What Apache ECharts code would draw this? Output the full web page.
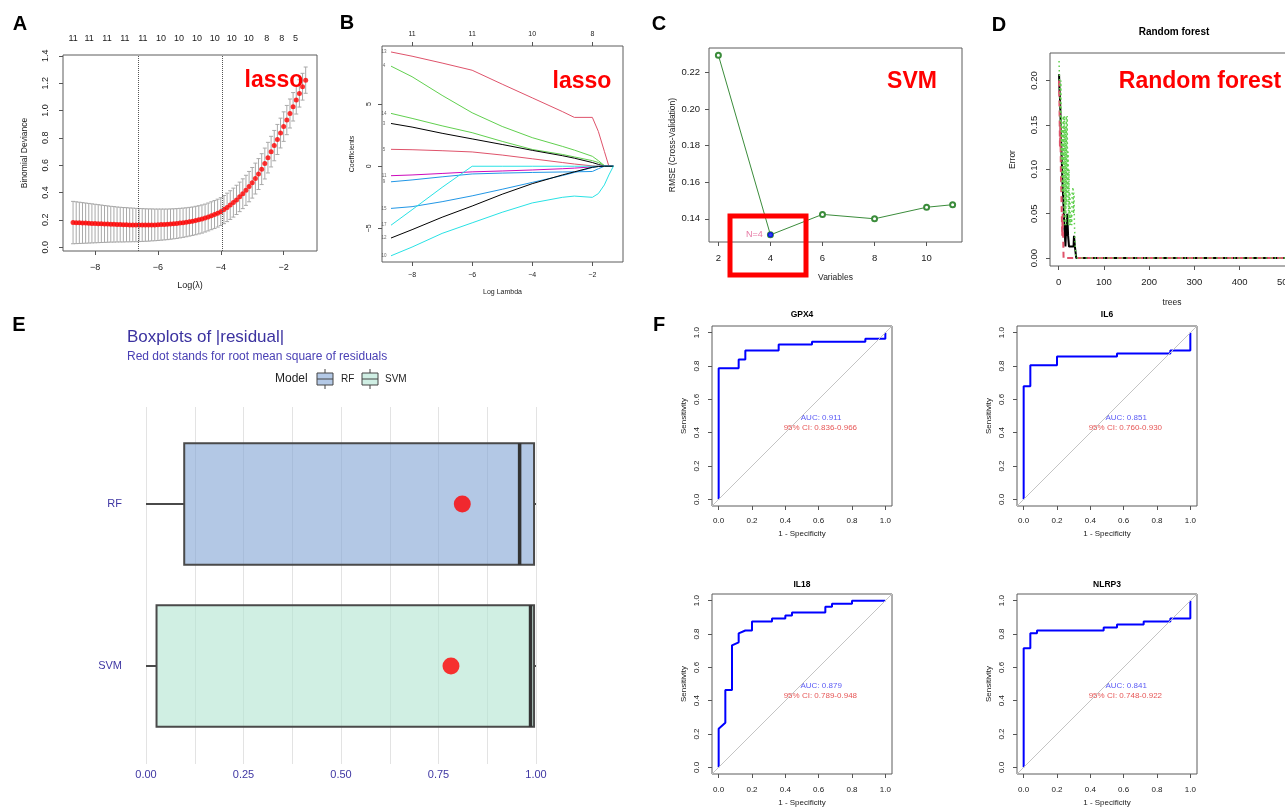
<!DOCTYPE html>
<html>
<head>
<meta charset="utf-8">
<script src="https://cdn.jsdelivr.net/npm/echarts@6/dist/echarts.min.js"></script>
<style>
  html, body { margin: 0; padding: 0; background: #ffffff; }
  #main { width: 1285px; height: 808px; }
</style>
</head>
<body>
<div id="main"></div>
<script>
// ---------- Panel A: cross-validated LASSO deviance ----------
const cvLogLambda = [
  -8.7,-8.6,-8.5,-8.4,-8.3,-8.2,-8.1,-8.0,-7.9,-7.8,
  -7.7,-7.6,-7.5,-7.4,-7.3,-7.2,-7.1,-7.0,-6.9,-6.8,
  -6.7,-6.6,-6.5,-6.4,-6.3,-6.2,-6.1,-6.0,-5.9,-5.8,
  -5.7,-5.6,-5.5,-5.4,-5.3,-5.2,-5.1,-5.0,-4.9,-4.8,
  -4.7,-4.6,-4.5,-4.4,-4.3,-4.2,-4.1,-4.0,-3.9,-3.8,
  -3.7,-3.6,-3.5,-3.4,-3.3,-3.2,-3.1,-3.0,-2.9,-2.8,
  -2.7,-2.6,-2.5,-2.4,-2.3,-2.2,-2.1,-2.0,-1.9,-1.8,
  -1.7,-1.6,-1.5,-1.4,-1.3];
const cvDeviance = [
  0.180,0.179,0.178,0.177,0.176,0.175,0.174,0.173,0.172,0.171,
  0.170,0.169,0.168,0.167,0.166,0.165,0.164,0.164,0.163,0.163,
  0.162,0.162,0.162,0.162,0.162,0.163,0.163,0.164,0.165,0.166,
  0.167,0.169,0.171,0.173,0.176,0.179,0.182,0.186,0.190,0.195,
  0.200,0.206,0.213,0.221,0.230,0.239,0.249,0.260,0.275,0.291,
  0.308,0.326,0.346,0.368,0.391,0.416,0.443,0.471,0.502,0.535,
  0.571,0.612,0.655,0.699,0.743,0.788,0.835,0.882,0.930,0.978,
  1.027,1.076,1.125,1.174,1.222];
const cvSE = [
  0.155,0.153,0.151,0.149,0.147,0.145,0.143,0.141,0.139,0.137,
  0.135,0.133,0.131,0.130,0.128,0.127,0.126,0.125,0.124,0.123,
  0.122,0.121,0.120,0.119,0.118,0.117,0.116,0.115,0.114,0.113,
  0.112,0.111,0.110,0.109,0.108,0.107,0.106,0.105,0.104,0.104,
  0.103,0.103,0.102,0.102,0.102,0.102,0.102,0.102,0.103,0.104,
  0.105,0.106,0.107,0.108,0.109,0.110,0.111,0.112,0.113,0.113,
  0.113,0.113,0.112,0.112,0.111,0.110,0.109,0.108,0.107,0.106,
  0.104,0.102,0.100,0.098,0.096];
const cvLambdaMarks = [-6.63, -3.94];
const cvTopPos = [-8.70,-8.19,-7.62,-7.05,-6.48,-5.90,-5.33,-4.76,-4.19,-3.65,-3.11,-2.54,-2.06,-1.62];
const cvTopCount = ['11','11','11','11','11','10','10','10','10','10','10','8','8','5'];
const cvXTicks = [-8,-6,-4,-2];
const cvYTicks = [0,0.2,0.4,0.6,0.8,1.0,1.2,1.4];

// ---------- Panel B: coefficient paths ----------
const pathLogLambda = [-8.7,-8,-7,-6,-5,-4,-3,-2.6,-2,-1.8,-1.6,-1.45,-1.3];
const coef13 = [9.19,8.85,8.30,7.72,6.60,5.50,4.40,3.93,3.93,2.80,1.20,0,0];
const coef4  = [8.05,7.20,5.70,4.30,3.20,2.30,1.60,1.30,0.80,0.45,0.05,0,0];
const coef14 = [4.25,3.85,3.25,2.70,2.00,1.35,0.95,0.75,0.45,0.30,0.05,0,0];
const coef3  = [3.44,3.15,2.65,2.20,1.75,1.28,0.85,0.65,0.30,0.15,0,0,0];
const coef5  = [1.36,1.33,1.25,1.15,0.90,0.60,0.30,0.18,0.03,0,0,0,0];
const coef11 = [-0.76,-0.70,-0.58,-0.45,-0.38,-0.30,-0.20,-0.15,-0.05,0,0,0,0];
const coef9  = [-1.25,-1.10,-0.85,-0.62,-0.55,-0.50,-0.46,-0.45,-0.42,-0.20,0,0,0];
const coef15 = [-3.39,-3.25,-2.85,-2.38,-1.85,-1.30,-0.75,-0.50,-0.10,-0.02,0,0,0];
const coef17 = [-4.74,-3.50,-1.70,0,0,0,0,0,0,0,0,0,0];
const coef12 = [-5.77,-5.10,-4.10,-3.20,-2.25,-1.40,-0.70,-0.45,-0.08,-0.02,0,0,0];
const coef10 = [-7.20,-6.50,-5.40,-4.55,-3.70,-2.95,-2.50,-2.40,-2.50,-2.20,-1.50,-0.70,0];
const pathTopTicks = [-8,-6,-4,-2];
const pathTopCount = ['11','11','10','8'];
const pathYTicks = [-5,0,5];

// ---------- Panel C: SVM-RFE ----------
const rfeVars = [2,4,6,8,10,11];
const rfeRMSE = [0.2295,0.1312,0.1424,0.1400,0.1463,0.1477];
const rfeBestVars = 4;
const rfeYTicks = [0.14,0.16,0.18,0.20,0.22];

// ---------- Panel D: random forest error ----------
const oobError = [[1,0.207],[2,0.19],[3,0.18],[4,0.165],[5,0.14],[6,0.125],[7,0.11],[8,0.095],[9,0.08],[10,0.07],
  [11,0.058],[12,0.045],[13,0.032],[14,0.025],[15,0.013],[16,0.013],[17,0.038],[18,0.025],[19,0.05],[20,0.038],
  [21,0.025],[22,0.025],[23,0.013],[33,0.013],[34,0.025],[35,0.025],[36,0.013],[38,0.013],[39,0],[500,0]];
const class1Error = [[1,0.2],[2,0.17],[3,0.125],[4,0.15],[5,0.1],[6,0.075],[7,0.05],[8,0.025],[9,0.05],[10,0.025],[11,0],[500,0]];
const class2Error = [[1,0.222],[2,0.2],[3,0.185],[4,0.15],[5,0.2],[6,0.11],[7,0.16],[8,0.074],[9,0.148],[10,0.074],
  [11,0.16],[12,0.037],[13,0.16],[14,0.05],[15,0.148],[16,0.037],[17,0.16],[18,0.06],[19,0.16],[20,0.074],
  [21,0.12],[22,0.037],[23,0.1],[24,0.037],[25,0.074],[26,0.037],[27,0.037],[28,0.05],[29,0.037],[30,0.074],
  [31,0.074],[32,0.08],[33,0.05],[34,0.074],[35,0.037],[36,0.025],[37,0.012],[38,0],[500,0]];
const rfXTicks = [0,100,200,300,400,500];
const rfYTicks = [0,0.05,0.10,0.15,0.20];

// ---------- Panel E: |residual| boxplots ----------
const models = ['RF','SVM'];
const residMin = [0.0, 0.0];
const residQ1 = [0.098, 0.027];
const residMedian = [0.958, 0.986];
const residQ3 = [0.995, 0.995];
const residMax = [1.0, 1.0];
const residRMS = [0.811, 0.782];

// ---------- Panel F: ROC curves (1 - specificity, sensitivity) ----------
const rocGPX4 = [[0,0],[0,0.786],[0.12,0.786],[0.12,0.839],[0.16,0.839],[0.16,0.893],[0.36,0.893],[0.36,0.929],
  [0.56,0.929],[0.56,0.946],[0.88,0.946],[0.88,0.964],[1,0.964],[1,1]];
const rocIL6 = [[0,0],[0,0.679],[0.04,0.679],[0.04,0.804],[0.2,0.804],[0.2,0.857],[0.56,0.857],[0.56,0.875],
  [0.88,0.875],[0.88,0.893],[1,0.893],[1,1]];
const rocIL18 = [[0,0],[0,0.232],[0.04,0.268],[0.04,0.464],[0.08,0.464],[0.08,0.732],[0.12,0.75],[0.12,0.804],
  [0.16,0.821],[0.2,0.821],[0.2,0.875],[0.32,0.875],[0.32,0.893],[0.4,0.893],[0.4,0.911],[0.44,0.911],
  [0.44,0.929],[0.64,0.929],[0.64,0.964],[0.68,0.964],[0.68,0.982],[0.8,0.982],[0.8,1],[1,1]];
const rocNLRP3 = [[0,0],[0,0.714],[0.04,0.714],[0.04,0.804],[0.08,0.804],[0.08,0.821],[0.48,0.821],[0.48,0.839],
  [0.56,0.839],[0.56,0.857],[0.72,0.857],[0.72,0.875],[0.88,0.875],[0.88,0.893],[1,0.893],[1,1]];
const rocGenes = ['GPX4','IL6','IL18','NLRP3'];
const rocAUC = ['0.911','0.851','0.879','0.841'];
const rocCI = ['0.836-0.966','0.760-0.930','0.789-0.948','0.748-0.922'];
const rocTicks = [0,0.2,0.4,0.6,0.8,1.0];

// ================= drawing =================
const FONT = '"Liberation Sans", Arial, Helvetica, sans-serif';
const INK = '#1a1a1a';
const R_PINK = '#DF536B', R_GREEN = '#61D04F', R_BLUE = '#2297E6', R_CYAN = '#28E2E5', R_MAG = '#CD0BBC';
const E_INK = '#3f37a3';

const minusFmt = v => (v < 0 ? '\u2212' : '') + Math.abs(v);

function box(left, top, width, height, show) {
  return { left, top, width, height, show: show !== false, borderColor: '#5c5c5c', borderWidth: 1,
           backgroundColor: 'rgba(0,0,0,0)', containLabel: false, outerBoundsMode: 'none' };
}

// value axis drawn like base-R graphics: ticks outside the plot box, at the box edge
function rAxis(grid, min, max, ticks, o) {
  const ax = {
    type: 'value', gridIndex: grid, min, max,
    axisLine: { show: false, onZero: false }, splitLine: { show: false },
    axisTick: { show: o.tick !== false, inside: false, length: 4, lineStyle: { color: '#555', width: 1 }, customValues: ticks },
    axisLabel: { customValues: ticks, fontSize: o.fs, color: INK, fontFamily: FONT, margin: o.margin,
                 formatter: o.fmt, rotate: o.rot || 0, hideOverlap: false },
    name: o.name || '', nameLocation: 'middle', nameGap: o.nameGap || 20,
    nameTextStyle: { fontSize: o.nfs || 9, color: INK, fontFamily: FONT }
  };
  if (o.pos) ax.position = o.pos;
  return ax;
}

const grids = [
  box(63, 55, 254, 196),        // 0 A
  box(382, 46, 241, 216),       // 1 B
  box(709, 48, 253, 194),       // 2 C
  box(1050, 53, 244, 213),      // 3 D
  box(146, 407, 390, 357, false), // 4 E grid lines
  box(146, 423, 390, 324, false), // 5 E boxes
  box(712, 326, 180, 180),      // 6 GPX4
  box(1017, 326, 180, 180),     // 7 IL6
  box(712, 594, 180, 180),      // 8 IL18
  box(1017, 594, 180, 180)      // 9 NLRP3
];

function nearestLabel(pos, labels) {
  return v => {
    let best = 0, d = Infinity;
    pos.forEach((p, i) => { const dd = Math.abs(p - v); if (dd < d) { d = dd; best = i; } });
    return labels[best];
  };
}

const xAxes = [
  rAxis(0, -9.02, -0.94, cvXTicks, { fs: 9, margin: 12, fmt: minusFmt, name: 'Log(\u03bb)', nameGap: 30, nfs: 9 }),
  rAxis(0, -9.02, -0.94, cvTopPos, { pos: 'top', tick: false, fs: 9, margin: 12, fmt: nearestLabel(cvTopPos, cvTopCount) }),
  rAxis(1, -9.0, -0.98, cvXTicks, { fs: 7, margin: 10, fmt: minusFmt, name: 'Log Lambda', nameGap: 27, nfs: 7 }),
  rAxis(1, -9.0, -0.98, pathTopTicks, { pos: 'top', fs: 7, margin: 8, fmt: nearestLabel(pathTopTicks, pathTopCount) }),
  rAxis(2, 1.64, 11.36, [2,4,6,8,10], { fs: 9.5, margin: 11, fmt: v => String(v), name: 'Variables', nameGap: 31, nfs: 8.5 }),
  rAxis(3, -19, 520, rfXTicks, { fs: 9.5, margin: 11, fmt: v => String(v), name: 'trees', nameGap: 32, nfs: 8.5 }),
  { type: 'value', gridIndex: 4, min: 0, max: 1, interval: 0.125,
    axisLine: { show: false, onZero: false }, axisTick: { show: false },
    splitLine: { show: true, lineStyle: { color: '#e3e3e3', width: 1 } },
    axisLabel: { color: E_INK, fontSize: 11, fontFamily: FONT, margin: 5,
                 formatter: v => (Math.round(v * 1000) % 250 === 0 ? v.toFixed(2) : '') } },
  { type: 'value', gridIndex: 5, min: 0, max: 1, show: false, axisLine: { onZero: false } },
];
rocGenes.forEach((g, i) => {
  const bottomRow = i >= 2;
  xAxes.push(rAxis(6 + i, -0.04, 1.04, rocTicks, { fs: 8, margin: bottomRow ? 11.5 : 10.5, fmt: v => v.toFixed(1),
    name: '1 - Specificity', nameGap: bottomRow ? 25 : 24, nfs: 8 }));
});

const yAxes = [
  rAxis(0, -0.028, 1.406, cvYTicks, { rot: 90, fs: 9, margin: 13, fmt: v => v.toFixed(1), name: 'Binomial Deviance', nameGap: 34, nfs: 8.5 }),
  rAxis(1, -7.7, 9.67, pathYTicks, { rot: 90, fs: 7, margin: 9, fmt: minusFmt, name: 'Coefficients', nameGap: 26, nfs: 7 }),
  rAxis(2, 0.1273, 0.2334, rfeYTicks, { rot: 0, fs: 9.5, margin: 9, fmt: v => v.toFixed(2), name: 'RMSE (Cross-Validation)', nameGap: 32, nfs: 8.5 }),
  rAxis(3, -0.0089, 0.231, rfYTicks, { rot: 90, fs: 9.5, margin: 11, fmt: v => v.toFixed(2), name: 'Error', nameGap: 33, nfs: 8.5 }),
  { type: 'value', gridIndex: 4, min: 0, max: 1, show: false, axisLine: { onZero: false } },
  { type: 'category', gridIndex: 5, data: models, inverse: true,
    axisLine: { show: false, onZero: false }, axisTick: { show: false }, splitLine: { show: false },
    axisLabel: { color: E_INK, fontSize: 11, fontFamily: FONT, margin: 24 } }
];
rocGenes.forEach((g, i) => {
  yAxes.push(rAxis(6 + i, -0.04, 1.04, rocTicks, { rot: 90, fs: 8, margin: 11, fmt: v => v.toFixed(1),
    name: 'Sensitivity', nameGap: 24.5, nfs: 8 }));
});

const series = [];

// A: error bars + mean deviance
series.push({
  type: 'custom', xAxisIndex: 0, yAxisIndex: 0, z: 2, silent: true,
  data: cvLogLambda.map((x, i) => [x, cvDeviance[i] - cvSE[i], cvDeviance[i] + cvSE[i]]),
  encode: { x: 0, y: [1, 2] },
  renderItem: (params, api) => {
    const x = api.value(0);
    const a = api.coord([x, api.value(1)]), b = api.coord([x, api.value(2)]);
    const s = { stroke: '#a9a9a9', lineWidth: 1 };
    return { type: 'group', children: [
      { type: 'line', shape: { x1: a[0], y1: a[1], x2: b[0], y2: b[1] }, style: s },
      { type: 'line', shape: { x1: a[0] - 2, y1: a[1], x2: a[0] + 2, y2: a[1] }, style: s },
      { type: 'line', shape: { x1: b[0] - 2, y1: b[1], x2: b[0] + 2, y2: b[1] }, style: s }
    ] };
  }
});
series.push({
  type: 'scatter', xAxisIndex: 0, yAxisIndex: 0, z: 3, silent: true,
  symbol: 'circle', symbolSize: 5, itemStyle: { color: '#ff0000' },
  data: cvLogLambda.map((x, i) => [x, cvDeviance[i]]),
  markLine: { silent: true, symbol: 'none', label: { show: false },
    lineStyle: { type: 'dotted', color: '#555', width: 1 },
    data: cvLambdaMarks.map(v => ({ xAxis: v })) }
});

// B: coefficient paths
const paths = [
  ['13', coef13, R_PINK], ['4', coef4, R_GREEN], ['14', coef14, R_GREEN], ['3', coef3, '#000000'],
  ['5', coef5, R_PINK], ['11', coef11, R_MAG], ['9', coef9, R_BLUE], ['15', coef15, R_BLUE],
  ['17', coef17, R_CYAN], ['12', coef12, '#000000'], ['10', coef10, R_CYAN]
];
paths.forEach(([name, vals, col]) => {
  series.push({
    type: 'line', xAxisIndex: 2, yAxisIndex: 1, symbol: 'none', silent: true,
    lineStyle: { color: col, width: 1 }, itemStyle: { color: col },
    data: pathLogLambda.map((x, i) => [x, vals[i]])
  });
});
series.push({
  type: 'scatter', xAxisIndex: 2, yAxisIndex: 1, symbolSize: 0, silent: true,
  data: paths.map(([name, vals]) => [-8.93, vals[0], name]),
  label: { show: true, position: 'inside', formatter: p => p.data[2], fontSize: 4.5, color: '#444', fontFamily: FONT }
});

// C: RMSE vs number of variables
series.push({
  type: 'line', xAxisIndex: 4, yAxisIndex: 2, silent: true,
  symbol: 'emptyCircle', symbolSize: 5,
  lineStyle: { color: '#3b8c3b', width: 1 }, itemStyle: { color: '#3b8c3b', borderWidth: 1 },
  data: rfeVars.map((v, i) => [v, rfeRMSE[i]])
});
series.push({
  type: 'scatter', xAxisIndex: 4, yAxisIndex: 2, silent: true, z: 4,
  symbol: 'circle', symbolSize: 5.5, itemStyle: { color: '#0000ff' },
  data: [[rfeBestVars, rfeRMSE[rfeVars.indexOf(rfeBestVars)]]],
  label: { show: true, position: 'left', distance: 5, formatter: 'N=' + rfeBestVars,
           fontSize: 9, color: '#e0558c', fontFamily: FONT }
});

// D: random forest error curves
series.push({ type: 'line', xAxisIndex: 5, yAxisIndex: 3, symbol: 'none', silent: true,
  lineStyle: { color: '#000000', width: 2 }, data: oobError });
series.push({ type: 'line', xAxisIndex: 5, yAxisIndex: 3, symbol: 'none', silent: true,
  lineStyle: { color: R_PINK, width: 2, type: [6, 4] }, data: class1Error });
series.push({ type: 'line', xAxisIndex: 5, yAxisIndex: 3, symbol: 'none', silent: true,
  lineStyle: { color: R_GREEN, width: 1.5, type: [1.5, 3] }, data: class2Error });

// E: boxplots of |residual|
const boxFill = ['rgba(128,163,212,0.6)', 'rgba(176,228,208,0.6)'];
series.push({
  type: 'custom', xAxisIndex: 7, yAxisIndex: 5, silent: true, z: 2,
  data: models.map((m, i) => [i, residMin[i], residQ1[i], residMedian[i], residQ3[i], residMax[i]]),
  encode: { y: 0, x: [1, 2, 3, 4, 5] },
  renderItem: (params, api) => {
    const c = api.value(0);
    const band = api.size([0, 1])[1];
    const h = band * 0.75;
    const pLo = api.coord([api.value(1), c]), pQ1 = api.coord([api.value(2), c]);
    const pMed = api.coord([api.value(3), c]), pQ3 = api.coord([api.value(4), c]);
    const pHi = api.coord([api.value(5), c]);
    const y = pQ1[1];
    const edge = { stroke: '#4a4a4a', lineWidth: 2 };
    return { type: 'group', children: [
      { type: 'line', shape: { x1: pLo[0], y1: y, x2: pQ1[0], y2: y }, style: edge },
      { type: 'line', shape: { x1: pQ3[0], y1: y, x2: pHi[0], y2: y }, style: edge },
      { type: 'rect', shape: { x: pQ1[0], y: y - h / 2, width: pQ3[0] - pQ1[0], height: h },
        style: { fill: boxFill[c], stroke: '#4a4a4a', lineWidth: 2 } },
      { type: 'line', shape: { x1: pMed[0], y1: y - h / 2, x2: pMed[0], y2: y + h / 2 },
        style: { stroke: '#333333', lineWidth: 3.5 } }
    ] };
  }
});
series.push({
  type: 'scatter', xAxisIndex: 7, yAxisIndex: 5, silent: true, z: 5,
  symbol: 'circle', symbolSize: 17, itemStyle: { color: '#ff0000' },
  data: models.map((m, i) => [residRMS[i], i])
});

// F: ROC curves
const rocData = [rocGPX4, rocIL6, rocIL18, rocNLRP3];
rocData.forEach((pts, i) => {
  series.push({
    type: 'line', xAxisIndex: 8 + i, yAxisIndex: 6 + i, symbol: 'none', silent: true, z: 3,
    lineStyle: { color: '#0000ff', width: 2 }, data: pts,
    markLine: { silent: true, symbol: 'none', label: { show: false },
      lineStyle: { type: 'solid', color: '#c4c4c4', width: 1 },
      data: [[{ coord: [-0.04, -0.04] }, { coord: [1.04, 1.04] }]] }
  });
  series.push({
    type: 'scatter', xAxisIndex: 8 + i, yAxisIndex: 6 + i, symbolSize: 0, silent: true, z: 4,
    data: [
      { name: 'AUC: ' + rocAUC[i], value: [0.615, 0.487], label: { color: '#2e2ef2' } },
      { name: '95% CI: ' + rocCI[i], value: [0.61, 0.432], label: { color: '#e02a2a' } }
    ],
    label: { show: true, position: 'inside', formatter: '{b}', fontSize: 8, fontFamily: FONT }
  });
});

// ---------- free text and annotations ----------
function txt(x, y, text, size, color, bold, align) {
  return { type: 'text', x, y, z: 100, silent: true,
    style: { text, fontSize: size, fontWeight: bold ? 'bold' : 'normal', fontFamily: FONT, fill: color,
             align: align || 'center', verticalAlign: 'middle',
             textAlign: align || 'center', textVerticalAlign: 'middle' } };
}
const graphics = [
  txt(20, 24, 'A', 20, '#000', true), txt(347, 23, 'B', 20, '#000', true),
  txt(659, 24, 'C', 20, '#000', true), txt(999, 25, 'D', 20, '#000', true),
  txt(19, 325, 'E', 20, '#000', true), txt(659, 325, 'F', 20, '#000', true),
  txt(274, 81, 'lasso', 23, '#ff0000', true),
  txt(582, 82, 'lasso', 23, '#ff0000', true),
  txt(912, 82, 'SVM', 23, '#ff0000', true),
  txt(1200, 82, 'Random forest', 23, '#ff0000', true),
  txt(1174, 32, 'Random forest', 10, '#000', true),
  txt(802, 315, 'GPX4', 8.5, '#000', true), txt(1107, 315, 'IL6', 8.5, '#000', true),
  txt(802, 585, 'IL18', 8.5, '#000', true), txt(1107, 585, 'NLRP3', 8.5, '#000', true),
  txt(127, 337, 'Boxplots of |residual|', 17, '#3b32a0', false, 'left'),
  txt(127, 357, 'Red dot stands for root mean square of residuals', 12, '#4a40b5', false, 'left'),
  txt(275, 379, 'Model', 12, '#222', false, 'left'),
  txt(341, 379, 'RF', 10, '#222', false, 'left'),
  txt(385, 379, 'SVM', 10, '#222', false, 'left'),
  { type: 'rect', z: 100, silent: true, shape: { x: 730, y: 216, width: 76, height: 59 },
    style: { fill: 'none', stroke: '#ff0000', lineWidth: 5 } }
];
// legend keys for the boxplot fill
[[317, '#b4c9e6'], [362, '#d0efe4']].forEach(([x, fill]) => {
  const s = { stroke: '#444', lineWidth: 1 };
  graphics.push({ type: 'line', z: 100, silent: true, shape: { x1: x + 8, y1: 369, x2: x + 8, y2: 389 }, style: s });
  graphics.push({ type: 'rect', z: 101, silent: true, shape: { x, y: 373, width: 16, height: 12 }, style: { fill, stroke: '#444', lineWidth: 1 } });
  graphics.push({ type: 'line', z: 102, silent: true, shape: { x1: x, y1: 379, x2: x + 16, y2: 379 }, style: s });
});

const chart = echarts.init(document.getElementById('main'), null, { renderer: 'canvas', width: 1285, height: 808 });
chart.setOption({
  animation: false,
  backgroundColor: '#ffffff',
  textStyle: { fontFamily: FONT },
  grid: grids,
  xAxis: xAxes,
  yAxis: yAxes,
  series,
  graphic: { elements: graphics }
});
</script>
</body>
</html>
